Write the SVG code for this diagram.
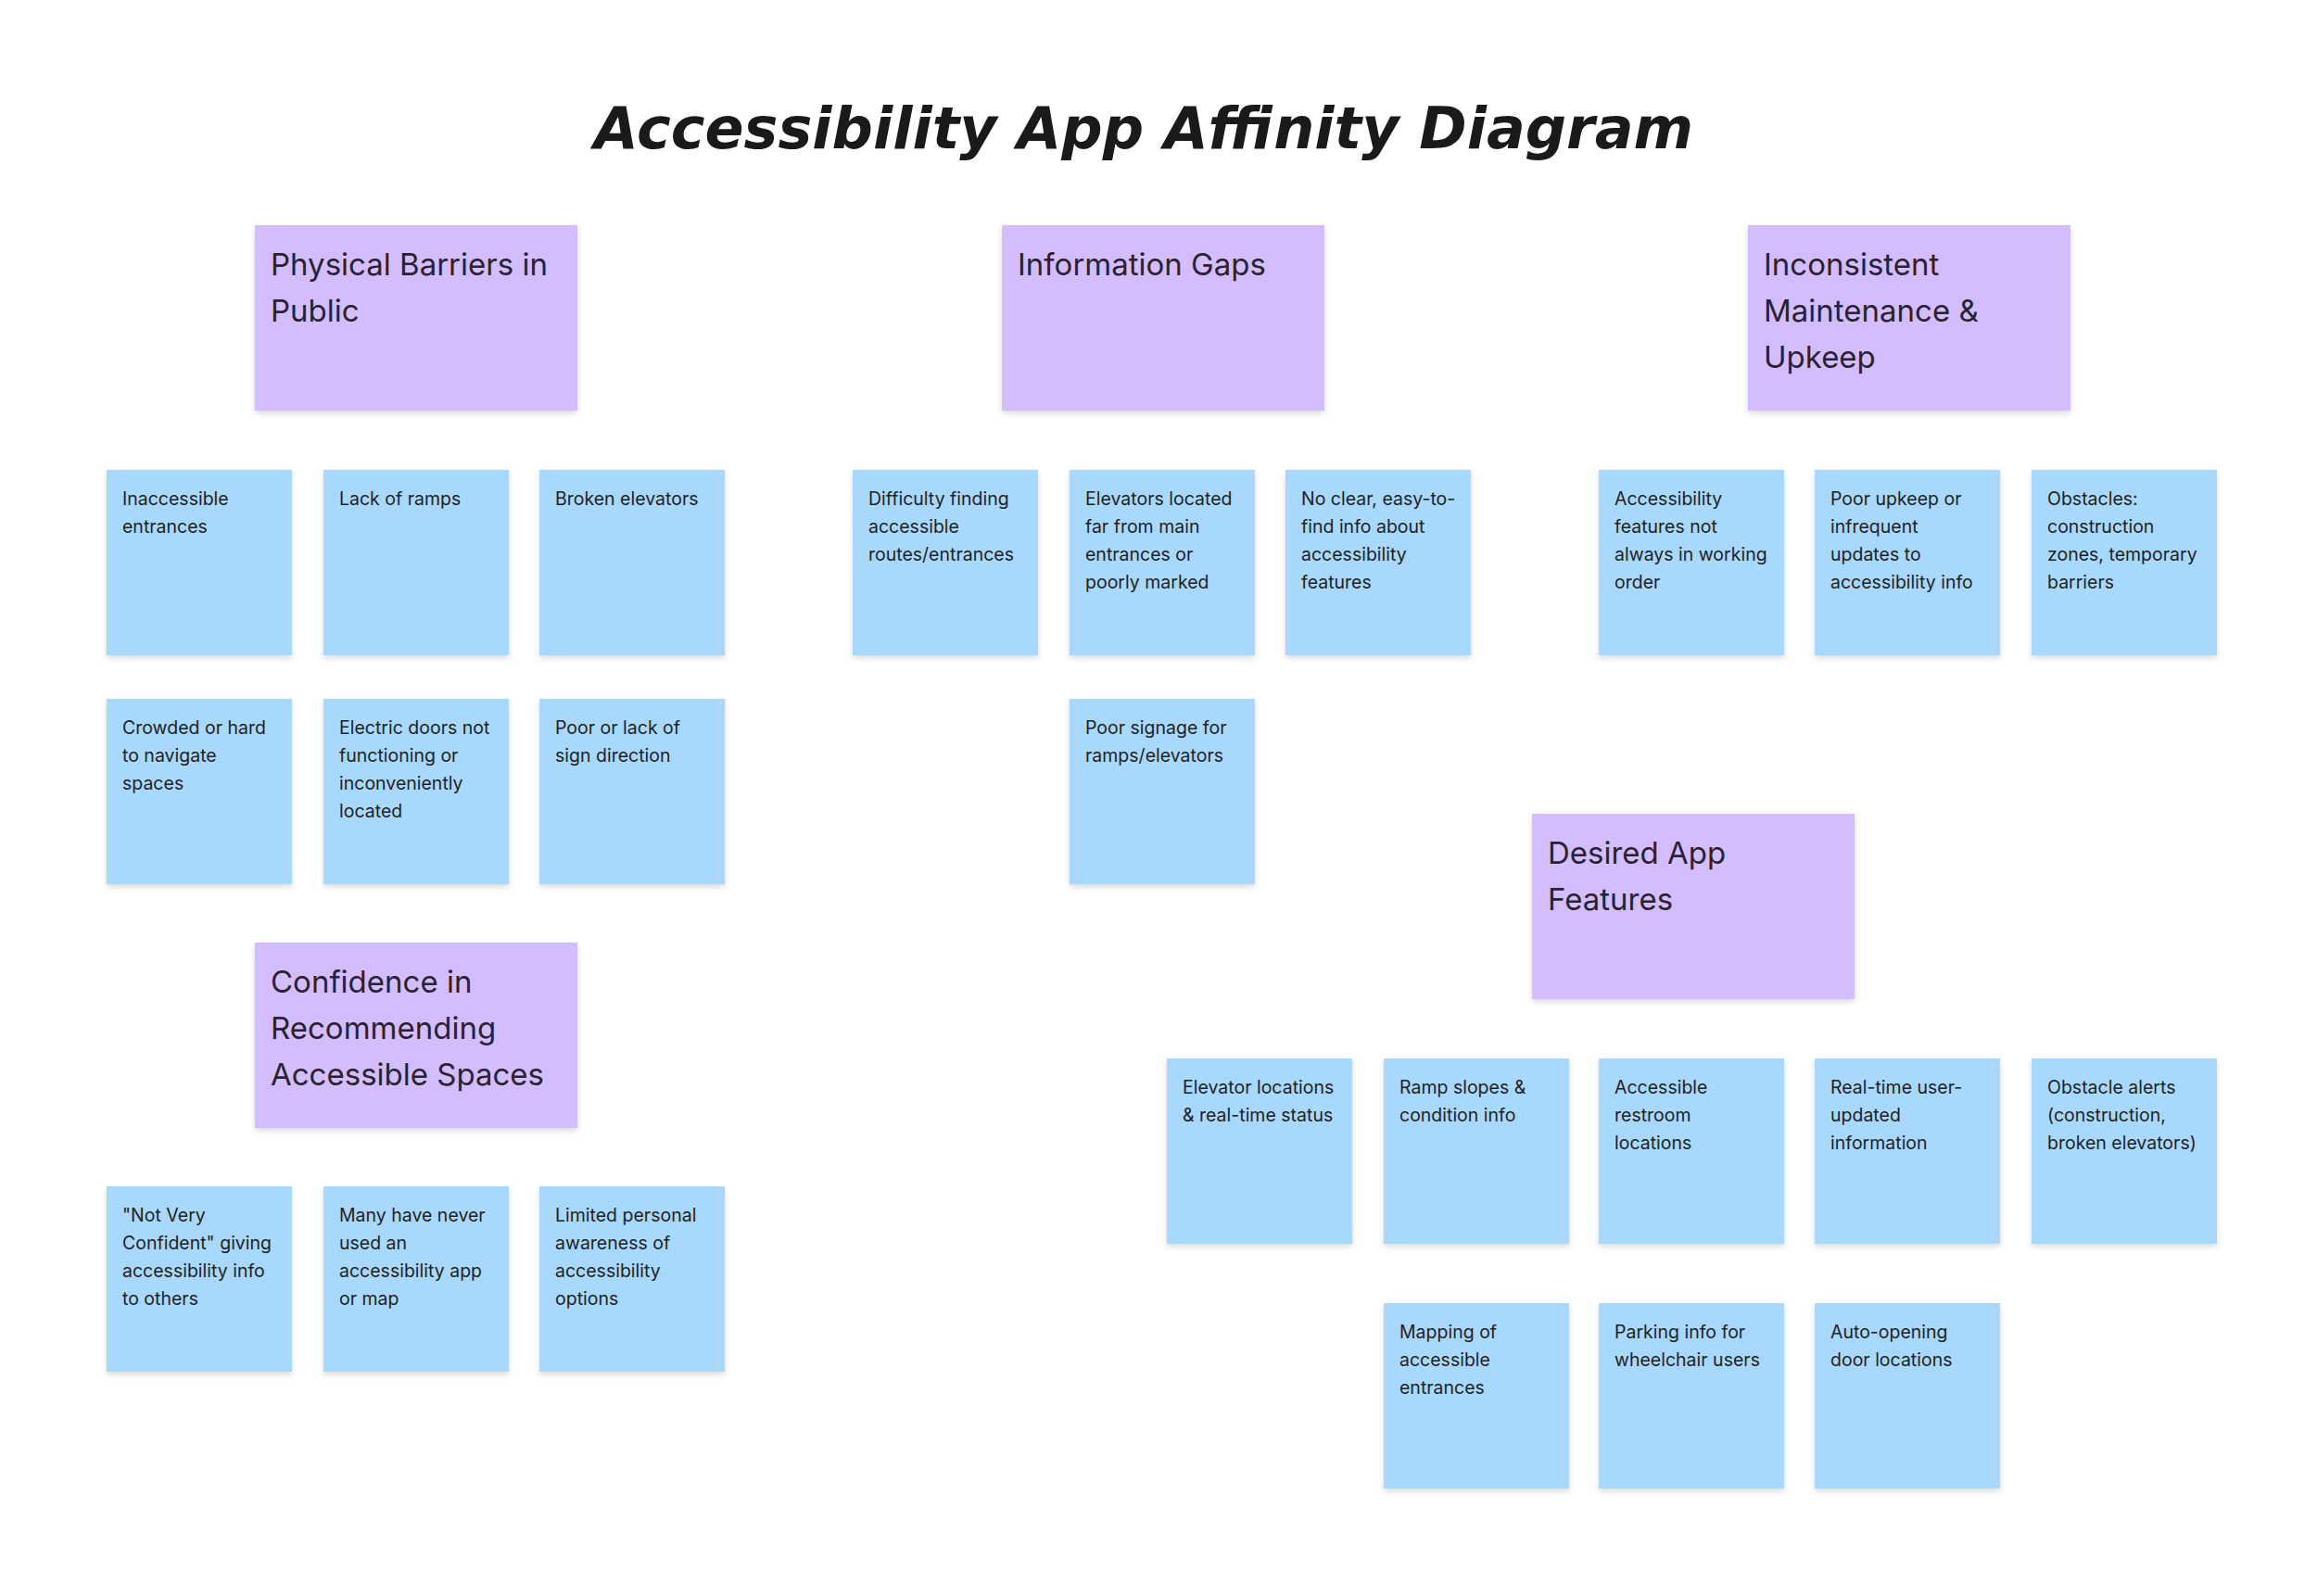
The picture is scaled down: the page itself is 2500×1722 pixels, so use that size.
<svg xmlns="http://www.w3.org/2000/svg" width="2500" height="1722" viewBox="0 0 2500 1722">
<style>
.p{fill:#d3bdfc}.b{fill:#a8d9fd}
.pt{font-family:Inter,"Liberation Sans",sans-serif;font-size:33px;fill:#2a2233}
.bt{font-family:Inter,"Liberation Sans",sans-serif;font-size:19.5px;fill:#222}
.title{font-family:"DejaVu Sans",sans-serif;font-style:italic;font-weight:600;font-size:62px;fill:#1a1a1a}
</style>
<defs><filter id="sh" x="-10%" y="-10%" width="120%" height="125%"><feDropShadow dx="0" dy="3" stdDeviation="3" flood-color="#000" flood-opacity="0.15"/></filter></defs>
<rect width="2500" height="1722" fill="#fff"/>
<text class="title" x="1234" y="160" text-anchor="middle">Accessibility App Affinity Diagram</text>
<g id="h1"><rect class="p" x="275" y="243" width="348" height="200" filter="url(#sh)"/><text class="pt" x="292" y="297">Physical Barriers in<tspan x="292" dy="50">Public</tspan></text></g>
<g id="h2"><rect class="p" x="1081" y="243" width="348" height="200" filter="url(#sh)"/><text class="pt" x="1098" y="297">Information Gaps</text></g>
<g id="h3"><rect class="p" x="1886" y="243" width="348" height="200" filter="url(#sh)"/><text class="pt" x="1903" y="297">Inconsistent<tspan x="1903" dy="50">Maintenance &amp;</tspan><tspan x="1903" dy="50">Upkeep</tspan></text></g>
<g id="h4"><rect class="p" x="275" y="1017" width="348" height="200" filter="url(#sh)"/><text class="pt" x="292" y="1071">Confidence in<tspan x="292" dy="50">Recommending</tspan><tspan x="292" dy="50">Accessible Spaces</tspan></text></g>
<g id="h5"><rect class="p" x="1653" y="878" width="348" height="200" filter="url(#sh)"/><text class="pt" x="1670" y="932">Desired App<tspan x="1670" dy="50">Features</tspan></text></g>

<g id="n1"><rect class="b" x="115" y="507" width="200" height="200" filter="url(#sh)"/><text class="bt" x="132" y="545">Inaccessible<tspan x="132" dy="30">entrances</tspan></text></g>
<g id="n2"><rect class="b" x="349" y="507" width="200" height="200" filter="url(#sh)"/><text class="bt" x="366" y="545">Lack of ramps</text></g>
<g id="n3"><rect class="b" x="582" y="507" width="200" height="200" filter="url(#sh)"/><text class="bt" x="599" y="545">Broken elevators</text></g>
<g id="n4"><rect class="b" x="115" y="754" width="200" height="200" filter="url(#sh)"/><text class="bt" x="132" y="792">Crowded or hard<tspan x="132" dy="30">to navigate</tspan><tspan x="132" dy="30">spaces</tspan></text></g>
<g id="n5"><rect class="b" x="349" y="754" width="200" height="200" filter="url(#sh)"/><text class="bt" x="366" y="792">Electric doors not<tspan x="366" dy="30">functioning or</tspan><tspan x="366" dy="30">inconveniently</tspan><tspan x="366" dy="30">located</tspan></text></g>
<g id="n6"><rect class="b" x="582" y="754" width="200" height="200" filter="url(#sh)"/><text class="bt" x="599" y="792">Poor or lack of<tspan x="599" dy="30">sign direction</tspan></text></g>

<g id="n7"><rect class="b" x="920" y="507" width="200" height="200" filter="url(#sh)"/><text class="bt" x="937" y="545">Difficulty finding<tspan x="937" dy="30">accessible</tspan><tspan x="937" dy="30">routes/entrances</tspan></text></g>
<g id="n8"><rect class="b" x="1154" y="507" width="200" height="200" filter="url(#sh)"/><text class="bt" x="1171" y="545">Elevators located<tspan x="1171" dy="30">far from main</tspan><tspan x="1171" dy="30">entrances or</tspan><tspan x="1171" dy="30">poorly marked</tspan></text></g>
<g id="n9"><rect class="b" x="1387" y="507" width="200" height="200" filter="url(#sh)"/><text class="bt" x="1404" y="545">No clear, easy-to-<tspan x="1404" dy="30">find info about</tspan><tspan x="1404" dy="30">accessibility</tspan><tspan x="1404" dy="30">features</tspan></text></g>
<g id="n10"><rect class="b" x="1154" y="754" width="200" height="200" filter="url(#sh)"/><text class="bt" x="1171" y="792">Poor signage for<tspan x="1171" dy="30">ramps/elevators</tspan></text></g>

<g id="n11"><rect class="b" x="1725" y="507" width="200" height="200" filter="url(#sh)"/><text class="bt" x="1742" y="545">Accessibility<tspan x="1742" dy="30">features not</tspan><tspan x="1742" dy="30">always in working</tspan><tspan x="1742" dy="30">order</tspan></text></g>
<g id="n12"><rect class="b" x="1958" y="507" width="200" height="200" filter="url(#sh)"/><text class="bt" x="1975" y="545">Poor upkeep or<tspan x="1975" dy="30">infrequent</tspan><tspan x="1975" dy="30">updates to</tspan><tspan x="1975" dy="30">accessibility info</tspan></text></g>
<g id="n13"><rect class="b" x="2192" y="507" width="200" height="200" filter="url(#sh)"/><text class="bt" x="2209" y="545">Obstacles:<tspan x="2209" dy="30">construction</tspan><tspan x="2209" dy="30">zones, temporary</tspan><tspan x="2209" dy="30">barriers</tspan></text></g>

<g id="n14"><rect class="b" x="115" y="1280" width="200" height="200" filter="url(#sh)"/><text class="bt" x="132" y="1318">"Not Very<tspan x="132" dy="30">Confident" giving</tspan><tspan x="132" dy="30">accessibility info</tspan><tspan x="132" dy="30">to others</tspan></text></g>
<g id="n15"><rect class="b" x="349" y="1280" width="200" height="200" filter="url(#sh)"/><text class="bt" x="366" y="1318">Many have never<tspan x="366" dy="30">used an</tspan><tspan x="366" dy="30">accessibility app</tspan><tspan x="366" dy="30">or map</tspan></text></g>
<g id="n16"><rect class="b" x="582" y="1280" width="200" height="200" filter="url(#sh)"/><text class="bt" x="599" y="1318">Limited personal<tspan x="599" dy="30">awareness of</tspan><tspan x="599" dy="30">accessibility</tspan><tspan x="599" dy="30">options</tspan></text></g>

<g id="n17"><rect class="b" x="1259" y="1142" width="200" height="200" filter="url(#sh)"/><text class="bt" x="1276" y="1180">Elevator locations<tspan x="1276" dy="30">&amp; real-time status</tspan></text></g>
<g id="n18"><rect class="b" x="1493" y="1142" width="200" height="200" filter="url(#sh)"/><text class="bt" x="1510" y="1180">Ramp slopes &amp;<tspan x="1510" dy="30">condition info</tspan></text></g>
<g id="n19"><rect class="b" x="1725" y="1142" width="200" height="200" filter="url(#sh)"/><text class="bt" x="1742" y="1180">Accessible<tspan x="1742" dy="30">restroom</tspan><tspan x="1742" dy="30">locations</tspan></text></g>
<g id="n20"><rect class="b" x="1958" y="1142" width="200" height="200" filter="url(#sh)"/><text class="bt" x="1975" y="1180">Real-time user-<tspan x="1975" dy="30">updated</tspan><tspan x="1975" dy="30">information</tspan></text></g>
<g id="n21"><rect class="b" x="2192" y="1142" width="200" height="200" filter="url(#sh)"/><text class="bt" x="2209" y="1180">Obstacle alerts<tspan x="2209" dy="30">(construction,</tspan><tspan x="2209" dy="30">broken elevators)</tspan></text></g>
<g id="n22"><rect class="b" x="1493" y="1406" width="200" height="200" filter="url(#sh)"/><text class="bt" x="1510" y="1444">Mapping of<tspan x="1510" dy="30">accessible</tspan><tspan x="1510" dy="30">entrances</tspan></text></g>
<g id="n23"><rect class="b" x="1725" y="1406" width="200" height="200" filter="url(#sh)"/><text class="bt" x="1742" y="1444">Parking info for<tspan x="1742" dy="30">wheelchair users</tspan></text></g>
<g id="n24"><rect class="b" x="1958" y="1406" width="200" height="200" filter="url(#sh)"/><text class="bt" x="1975" y="1444">Auto-opening<tspan x="1975" dy="30">door locations</tspan></text></g>
<g id="connectors"/>
</svg>
